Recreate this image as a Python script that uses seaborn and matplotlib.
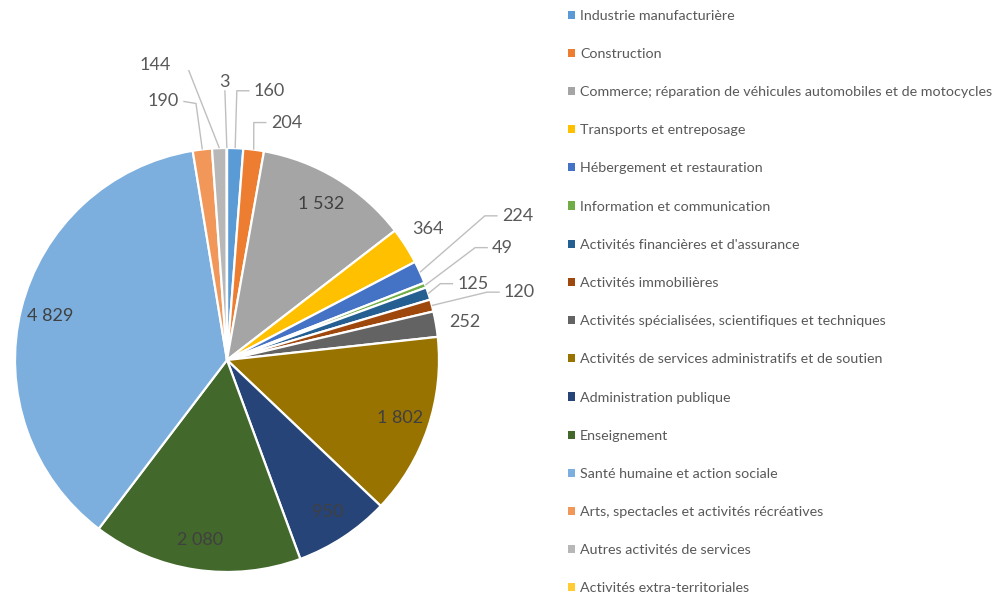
import matplotlib
matplotlib.use("Agg")
import matplotlib.pyplot as plt
from matplotlib.patches import Patch
import numpy as np
import seaborn as sns

# Salariés par secteur d'activité
categories = [
    "Industrie manufacturière",
    "Construction",
    "Commerce; réparation de véhicules automobiles et de motocycles",
    "Transports et entreposage",
    "Hébergement et restauration",
    "Information et communication",
    "Activités financières et d'assurance",
    "Activités immobilières",
    "Activités spécialisées, scientifiques et techniques",
    "Activités de services administratifs et de soutien",
    "Administration publique",
    "Enseignement",
    "Santé humaine et action sociale",
    "Arts, spectacles et activités récréatives",
    "Autres activités de services",
    "Activités extra-territoriales",
]
values = [160, 204, 1532, 364, 224, 49, 125, 120, 252, 1802, 950, 2080, 4829, 190, 144, 3]
value_labels = ["160", "204", "1 532", "364", "224", "49", "125", "120", "252",
                "1 802", "950", "2 080", "4 829", "190", "144", "3"]

colors = ["#5B9BD5", "#ED7D31", "#A5A5A5", "#FFC000", "#4472C4", "#70AD47",
          "#255E91", "#9E480E", "#636363", "#997300", "#264478", "#43682B",
          "#7CAFDD", "#F1975A", "#B7B7B7", "#FFCD33"]

# Label placement: inside slices (default) or outside at (x, y) in pie-radius
# units, with the side of the text the leader line leaves from
outside = {
    0: ((0.20, 1.27), "left"),
    1: ((0.28, 1.12), "left"),
    3: ((0.95, 0.62), None),
    4: ((1.37, 0.68), "left"),
    5: ((1.30, 0.53), "left"),
    6: ((1.16, 0.36), "left"),
    7: ((1.38, 0.32), "left"),
    8: ((1.12, 0.18), None),
    13: ((-0.30, 1.22), "right"),
    14: ((-0.34, 1.39), "right"),
    15: ((-0.01, 1.31), "bottom"),
}

sns.set_theme(style="white")
plt.rcParams["font.family"] = ["Lato", "DejaVu Sans"]

W, H = 1008, 595
fig = plt.figure(figsize=(W / 100, H / 100), dpi=100)
fig.patch.set_facecolor("white")

R_px = 212
cx, cy = 227, 360
half = 290
ax = fig.add_axes([(cx - half) / W, (H - cy - half) / H, 2 * half / W, 2 * half / H])
ax.axis("off")

wedges, _ = ax.pie(values, colors=colors, startangle=90, counterclock=False,
                   radius=1.0, wedgeprops=dict(edgecolor="white", linewidth=1.6))
ax.set_xlim(-half / R_px, half / R_px)
ax.set_ylim(-half / R_px, half / R_px)
ax.set_aspect("equal")

total = float(sum(values))
cum = np.cumsum([0] + values[:-1])
line_col = "#BFBFBF"
txt_outside = "#595959"
txt_inside = "#404040"

fig.canvas.draw()
renderer = fig.canvas.get_renderer()
inv = ax.transData.inverted()

for i, (v, lab) in enumerate(zip(values, value_labels)):
    mid = (cum[i] + v / 2) / total * 2 * np.pi  # clockwise from top
    ex, ey = np.sin(mid), np.cos(mid)
    if i in outside:
        (lx, ly), side = outside[i]
        t = ax.text(lx, ly, lab, ha="center", va="center", fontsize=13,
                    color=txt_outside)
        if side is not None:
            bb = t.get_window_extent(renderer=renderer)
            (x0, y0), (x1, y1) = inv.transform([[bb.x0, bb.y0], [bb.x1, bb.y1]])
            gap = 0.02
            if side == "left":
                ax_pt = (x0 - gap, ly)
                elbow = (x0 - gap - 0.06, ly)
            elif side == "right":
                ax_pt = (x1 + gap, ly)
                elbow = (x1 + gap + 0.06, ly - 0.01)
            else:
                ax_pt = (lx, y0)
                elbow = (lx, y0)
            ax.plot([ax_pt[0], elbow[0], ex], [ax_pt[1], elbow[1], ey],
                    color=line_col, lw=1.0, solid_capstyle="butt")
    else:
        r = 0.86
        ax.text(r * ex, r * ey, lab, ha="center", va="center", fontsize=13,
                color=txt_inside)

handles = [Patch(facecolor=c, edgecolor="none") for c in colors]
fig.legend(handles, categories, loc="upper left",
           bbox_to_anchor=(562 / W, 1 - 4 / H), frameon=False,
           fontsize=10.3, labelcolor="#595959", handlelength=0.5,
           handleheight=0.5, handletextpad=0.35, labelspacing=1.83,
           borderaxespad=0)

fig.savefig("out.png", dpi=100, facecolor="white")
